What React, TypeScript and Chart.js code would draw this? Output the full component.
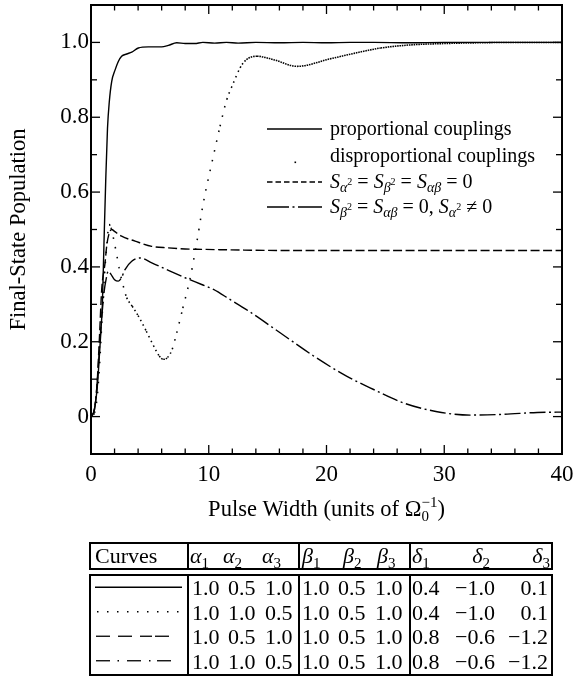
import React, { useEffect, useRef } from 'react';
import { Chart, registerables } from 'chart.js';

Chart.register(...registerables);

// ---------- data ----------
const X_TICKS = [0, 10, 20, 30, 40];
const X_MINOR_TICKS = [2, 4, 6, 8, 12, 14, 16, 18, 22, 24, 26, 28, 32, 34, 36, 38];
const Y_TICKS = [0, 0.2, 0.4, 0.6, 0.8, 1.0];
const Y_MINOR_TICKS = [0.1, 0.3, 0.5, 0.7, 0.9];

const PROP_X = [0, 0.15, 0.34, 0.54, 0.71, 0.85, 0.96, 1.1, 1.25, 1.4, 1.55, 1.76, 2.04, 2.32, 2.6, 3.03, 3.46, 4.02, 4.87, 6.0, 6.57, 7.28, 8.0, 8.8, 9.5, 10.5, 11.5, 12.5, 14, 16, 18, 20, 22, 24, 27, 30, 34, 37, 40];
const PROP_Y = [0, 0.005, 0.028, 0.082, 0.162, 0.233, 0.295, 0.46, 0.63, 0.77, 0.84, 0.896, 0.926, 0.949, 0.963, 0.969, 0.974, 0.985, 0.988, 0.988, 0.992, 0.999, 0.997, 0.997, 1.0, 0.998, 1.0, 0.998, 1.0, 0.999, 1.0, 0.999, 1.0, 1.0, 0.999, 1.0, 1.0, 1.0, 1.0];

const DISP_X = [0, 0.3, 0.55, 0.75, 0.95, 1.15, 1.35, 1.53, 1.7, 1.9, 2.18, 2.41, 2.74, 3.03, 3.5, 4.0, 4.7, 5.3, 5.8, 6.14, 6.5, 6.9, 7.28, 7.8, 8.4, 8.98, 9.54, 10.39, 10.96, 11.53, 12.1, 12.66, 13.2, 14.1, 15.5, 17.5, 20.3, 23.1, 24.6, 27, 30, 33, 36, 40];
const DISP_Y = [0, 0.01, 0.06, 0.15, 0.27, 0.38, 0.46, 0.513, 0.505, 0.478, 0.433, 0.393, 0.349, 0.318, 0.295, 0.27, 0.228, 0.19, 0.162, 0.153, 0.158, 0.18, 0.224, 0.29, 0.367, 0.465, 0.571, 0.696, 0.776, 0.847, 0.892, 0.932, 0.954, 0.963, 0.954, 0.936, 0.956, 0.976, 0.985, 0.993, 0.997, 0.999, 1.0, 1.0];

const DASH_X = [0, 0.3, 0.5, 0.7, 0.91, 1.19, 1.33, 1.5, 1.76, 2.0, 2.6, 3.74, 5.16, 6.57, 7.99, 9.4, 11, 13, 16, 20, 25, 30, 35, 40];
const DASH_Y = [0, 0.02, 0.08, 0.2, 0.34, 0.41, 0.455, 0.485, 0.5, 0.495, 0.482, 0.469, 0.455, 0.451, 0.448, 0.447, 0.446, 0.445, 0.444, 0.444, 0.444, 0.444, 0.444, 0.444];

const DD_X = [0, 0.3, 0.5, 0.8, 1.1, 1.3, 1.47, 1.7, 2.0, 2.32, 2.6, 2.89, 3.46, 4.16, 5.16, 6.57, 7.99, 9.4, 10.4, 11.8, 13.2, 16.06, 18.9, 21.7, 23.7, 26.5, 29.4, 32.2, 35.0, 37.9, 40];
const DD_Y = [0, 0.02, 0.08, 0.22, 0.33, 0.37, 0.389, 0.38, 0.366, 0.362, 0.372, 0.393, 0.415, 0.424, 0.411, 0.391, 0.371, 0.353, 0.34, 0.313, 0.286, 0.224, 0.162, 0.108, 0.077, 0.037, 0.013, 0.004, 0.006, 0.011, 0.012];

type Run = { t: string; s?: number; dy?: number; i?: boolean; na?: boolean };

const LEGEND_ROWS: Run[][] = [
  [{ t: 'proportional couplings' }],
  [{ t: 'disproportional couplings' }],
  [
    { t: 'S', i: true }, { t: 'α', s: 14, dy: 4, i: true }, { t: '2', s: 10, dy: -3 },
    { t: ' = ' },
    { t: 'S', i: true }, { t: 'β', s: 14, dy: 4, i: true }, { t: '2', s: 10, dy: -3 },
    { t: ' = ' },
    { t: 'S', i: true }, { t: 'αβ', s: 14, dy: 4, i: true },
    { t: ' = 0' },
  ],
  [
    { t: 'S', i: true }, { t: 'β', s: 14, dy: 4, i: true }, { t: '2', s: 10, dy: -3 },
    { t: ' = ' },
    { t: 'S', i: true }, { t: 'αβ', s: 14, dy: 4, i: true },
    { t: ' = 0, ' },
    { t: 'S', i: true }, { t: 'α', s: 14, dy: 4, i: true }, { t: '2', s: 10, dy: -3 },
    { t: ' ≠ 0' },
  ],
];

const X_TITLE: Run[] = [
  { t: 'Pulse Width (units of Ω', s: 22.5 },
  { t: '0', s: 15, dy: 5, na: true },
  { t: '−1', s: 15, dy: -9 },
  { t: ')', s: 22.5 },
];
const Y_TITLE = 'Final-State Population';

const TABLE_ALPHA = [['1.0', '0.5', '1.0'], ['1.0', '1.0', '0.5'], ['1.0', '0.5', '1.0'], ['1.0', '1.0', '0.5']];
const TABLE_BETA = [['1.0', '0.5', '1.0'], ['1.0', '0.5', '1.0'], ['1.0', '0.5', '1.0'], ['1.0', '0.5', '1.0']];
const TABLE_DELTA = [['0.4', '−1.0', '0.1'], ['0.4', '−1.0', '0.1'], ['0.8', '−0.6', '−1.2'], ['0.8', '−0.6', '−1.2']];

// ---------- helpers ----------
const FAMILY = '"Liberation Serif", "Times New Roman", serif';

function setFont(ctx: CanvasRenderingContext2D, r: Run, base: number) {
  ctx.font = `${r.i ? 'italic ' : ''}${r.s ?? base}px ${FAMILY}`;
}

function measureRich(ctx: CanvasRenderingContext2D, runs: Run[], base: number) {
  let w = 0;
  let pending = 0;
  for (const r of runs) {
    setFont(ctx, r, base);
    const tw = ctx.measureText(r.t).width;
    if (r.na) { pending = tw; continue; }
    w += Math.max(tw, pending);
    pending = 0;
  }
  return w;
}

function drawRich(ctx: CanvasRenderingContext2D, x: number, y: number, runs: Run[], base: number) {
  let cx = x;
  let pending = 0;
  ctx.textBaseline = 'alphabetic';
  ctx.textAlign = 'left';
  for (const r of runs) {
    setFont(ctx, r, base);
    ctx.fillText(r.t, cx, y + (r.dy ?? 0));
    const tw = ctx.measureText(r.t).width;
    if (r.na) { pending = tw; continue; }
    cx += Math.max(tw, pending);
    pending = 0;
  }
}

const decorPlugin = {
  id: 'decor',
  afterDatasetsDraw(chart: any) {
    const ctx: CanvasRenderingContext2D = chart.ctx;
    const { left, right, top, bottom } = chart.chartArea;
    const xs = chart.scales.x;
    const ys = chart.scales.y;
    ctx.save();
    ctx.strokeStyle = '#000';
    ctx.fillStyle = '#000';
    ctx.lineWidth = 1.3;
    ctx.setLineDash([]);
    const line = (x1: number, y1: number, x2: number, y2: number) => {
      ctx.beginPath(); ctx.moveTo(x1, y1); ctx.lineTo(x2, y2); ctx.stroke();
    };
    X_TICKS.forEach(v => { const p = xs.getPixelForValue(v); line(p, bottom, p, bottom - 9); line(p, top, p, top + 9); });
    X_MINOR_TICKS.forEach(v => { const p = xs.getPixelForValue(v); line(p, bottom, p, bottom - 5.5); line(p, top, p, top + 5.5); });
    Y_TICKS.forEach(v => { const p = ys.getPixelForValue(v); line(left, p, left + 9, p); line(right, p, right - 9, p); });
    Y_MINOR_TICKS.forEach(v => { const p = ys.getPixelForValue(v); line(left, p, left + 6, p); line(right, p, right - 6, p); });
    ctx.lineWidth = 2;
    ctx.strokeRect(left, top, right - left, bottom - top);

    // legend
    const lx0 = 267, lx1 = 322, tx = 330;
    const baselines = [135, 162, 188, 213];
    ctx.lineWidth = 1.4;
    line(lx0, 129, lx1, 129);
    ctx.fillRect(294.5, 161.5, 1.6, 1.6);
    ctx.setLineDash([5.5, 3]);
    line(lx0, 182, lx1, 182);
    ctx.setLineDash([22, 3.5, 2, 3.5, 40]);
    line(lx0, 207, lx1, 207);
    ctx.setLineDash([]);
    LEGEND_ROWS.forEach((runs, i) => drawRich(ctx, tx, baselines[i], runs, 20));

    // x title
    const w = measureRich(ctx, X_TITLE, 22.5);
    drawRich(ctx, (left + right) / 2 - w / 2, 516, X_TITLE, 22.5);
    ctx.restore();
  },
};

function mk(xa: number[], ya: number[]) {
  return xa.map((x, i) => ({ x, y: ya[i] }));
}

const tickFont = { family: FAMILY, size: 23 };

function ChartView() {
  const ref = useRef<HTMLCanvasElement | null>(null);
  useEffect(() => {
    if (!ref.current) return;
    const base = {
      showLine: true,
      pointRadius: 0,
      borderColor: '#000',
      backgroundColor: '#000',
      borderWidth: 1.4,
      cubicInterpolationMode: 'monotone' as const,
      borderCapStyle: 'butt' as const,
    };
    const chart = new Chart(ref.current, {
      type: 'scatter',
      data: {
        datasets: [
          { ...base, label: 'proportional couplings', data: mk(PROP_X, PROP_Y) },
          {
            ...base,
            label: 'disproportional couplings',
            data: mk(DISP_X, DISP_Y),
            borderWidth: 1.55,
            segment: {
              borderDash: (c: any) => {
                const dx = Math.abs(c.p1.x - c.p0.x);
                const dy = Math.abs(c.p1.y - c.p0.y);
                const L = Math.hypot(dx, dy);
                let period = dx > 0.01 ? (2.35 * L) / dx : 10;
                period = Math.min(Math.max(period, 2.3), 10);
                return [1.55, Math.max(period - 1.55, 0.6)];
              },
            },
          },
          { ...base, label: 'S=0', data: mk(DASH_X, DASH_Y), borderDash: [9, 3.5] },
          { ...base, label: 'Sa2', data: mk(DD_X, DD_Y), borderDash: [16, 3.5, 2, 3.5] },
        ],
      },
      options: {
        animation: false,
        responsive: false,
        layout: { padding: { top: 5, right: 12, left: 0, bottom: 0 } },
        plugins: { legend: { display: false }, tooltip: { enabled: false } },
        scales: {
          x: {
            type: 'linear',
            min: 0,
            max: 40,
            afterBuildTicks: (s: any) => { s.ticks = X_TICKS.map(v => ({ value: v })); },
            afterFit: (s: any) => { s.height = 81; s.paddingLeft = 0; s.paddingRight = 0; },
            grid: { display: false, drawTicks: false },
            border: { display: false },
            ticks: { padding: 7, font: tickFont, color: '#000', maxRotation: 0, autoSkip: false, callback: (v: any) => String(v) },
          },
          y: {
            type: 'linear',
            min: -0.1,
            max: 1.1,
            afterBuildTicks: (s: any) => { s.ticks = Y_TICKS.map(v => ({ value: v })); },
            afterFit: (s: any) => { s.width = 91; s.paddingTop = 0; s.paddingBottom = 0; },
            grid: { display: false, drawTicks: false },
            border: { display: false },
            ticks: { padding: 2, font: tickFont, color: '#000', autoSkip: false, callback: (v: any) => (Number(v) === 0 ? '0' : Number(v).toFixed(1)) },
            title: { display: true, text: Y_TITLE, font: { family: FAMILY, size: 22.5 }, color: '#000', padding: { top: 6, bottom: 0 } },
          },
        },
      } as any,
      plugins: [decorPlugin],
    });
    return () => chart.destroy();
  }, []);
  return <canvas ref={ref} width={574} height={535} style={{ position: 'absolute', left: 0, top: 0, width: 574, height: 535 }} />;
}

// ---------- table ----------
const ROW_H = 24.5;
const txt: React.CSSProperties = { position: 'absolute', whiteSpace: 'nowrap', fontFamily: FAMILY, fontSize: 22, color: '#000' };

function Sym({ g, n }: { g: string; n: string }) {
  return (
    <span>
      <i>{g}</i>
      <span style={{ fontSize: 15, position: 'relative', top: 5 }}>{n}</span>
    </span>
  );
}

function CurveSample({ kind, y }: { kind: number; y: number }) {
  const st = { stroke: '#000', strokeWidth: 1.3 };
  if (kind === 0) return <line x1={95} x2={182} y1={y} y2={y} {...st} />;
  if (kind === 1) return <line x1={97} x2={182} y1={y} y2={y} {...st} strokeWidth={1.5} strokeDasharray="1.5 8.5" />;
  if (kind === 2)
    return (
      <g>
        <line x1={96} x2={110} y1={y} y2={y} {...st} />
        <line x1={118} x2={132} y1={y} y2={y} {...st} />
        <line x1={140} x2={152} y1={y} y2={y} {...st} />
        <line x1={155} x2={169} y1={y} y2={y} {...st} />
      </g>
    );
  return (
    <g>
      <line x1={96} x2={110} y1={y} y2={y} {...st} />
      <line x1={117.5} x2={119} y1={y} y2={y} {...st} />
      <line x1={127} x2={141} y1={y} y2={y} {...st} />
      <line x1={149} x2={150.5} y1={y} y2={y} {...st} />
      <line x1={157} x2={171} y1={y} y2={y} {...st} />
    </g>
  );
}

function DataTable() {
  const hdrTop = 542, hdrH = 28;
  const bodyTop = 574, bodyH = 102;
  const boxL = 89, boxW = 464;
  const seps = [187, 298, 409];
  const aX = [192, 228, 265];
  const bX = [302, 338, 375];
  const rowCenter = (i: number) => bodyTop + 2 + ROW_H * i + ROW_H / 2;
  const hdrC = hdrTop + hdrH / 2;
  const tStyle = (yc: number): React.CSSProperties => ({ ...txt, top: yc - 14, height: 28, lineHeight: '28px' });
  return (
    <div style={{ position: 'absolute', left: 0, top: 0, width: 574, height: 683 }}>
      <div style={{ position: 'absolute', left: boxL, top: hdrTop, width: boxW, height: hdrH, border: '2px solid #000', boxSizing: 'border-box' }} />
      <div style={{ position: 'absolute', left: boxL, top: bodyTop, width: boxW, height: bodyH, border: '2px solid #000', boxSizing: 'border-box' }} />
      {seps.map(x => (
        <React.Fragment key={x}>
          <div style={{ position: 'absolute', left: x, top: hdrTop, width: 2, height: hdrH, background: '#000' }} />
          <div style={{ position: 'absolute', left: x, top: bodyTop, width: 2, height: bodyH, background: '#000' }} />
        </React.Fragment>
      ))}
      <span style={{ ...tStyle(hdrC), left: 95 }}>Curves</span>
      <span style={{ ...tStyle(hdrC), left: 190 }}><Sym g="α" n="1" /></span>
      <span style={{ ...tStyle(hdrC), left: 223 }}><Sym g="α" n="2" /></span>
      <span style={{ ...tStyle(hdrC), left: 262 }}><Sym g="α" n="3" /></span>
      <span style={{ ...tStyle(hdrC), left: 302 }}><Sym g="β" n="1" /></span>
      <span style={{ ...tStyle(hdrC), left: 343 }}><Sym g="β" n="2" /></span>
      <span style={{ ...tStyle(hdrC), left: 377 }}><Sym g="β" n="3" /></span>
      <span style={{ ...tStyle(hdrC), left: 412 }}><Sym g="δ" n="1" /></span>
      <span style={{ ...tStyle(hdrC), right: 574 - 490 }}><Sym g="δ" n="2" /></span>
      <span style={{ ...tStyle(hdrC), right: 574 - 550 }}><Sym g="δ" n="3" /></span>
      <svg width={574} height={683} style={{ position: 'absolute', left: 0, top: 0 }}>
        {[0, 1, 2, 3].map(i => <CurveSample key={i} kind={i} y={rowCenter(i) - 1} />)}
      </svg>
      {TABLE_ALPHA.map((row, i) =>
        row.map((v, j) => <span key={`a${i}${j}`} style={{ ...tStyle(rowCenter(i)), left: aX[j] }}>{v}</span>)
      )}
      {TABLE_BETA.map((row, i) =>
        row.map((v, j) => <span key={`b${i}${j}`} style={{ ...tStyle(rowCenter(i)), left: bX[j] }}>{v}</span>)
      )}
      {TABLE_DELTA.map((row, i) => (
        <React.Fragment key={`d${i}`}>
          <span style={{ ...tStyle(rowCenter(i)), left: 412 }}>{row[0]}</span>
          <span style={{ ...tStyle(rowCenter(i)), right: 574 - 495 }}>{row[1]}</span>
          <span style={{ ...tStyle(rowCenter(i)), right: 574 - 548 }}>{row[2]}</span>
        </React.Fragment>
      ))}
    </div>
  );
}

export default function App() {
  return (
    <div style={{ position: 'absolute', left: 0, top: 0, width: 574, height: 683, background: '#fff' }}>
      <ChartView />
      <DataTable />
    </div>
  );
}
